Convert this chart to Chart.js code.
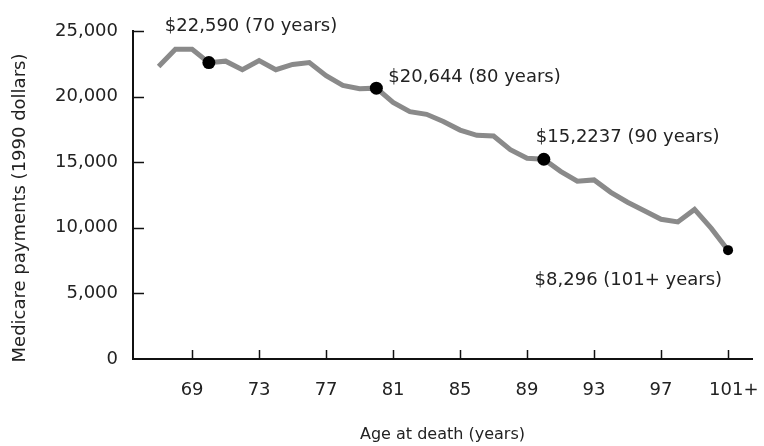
<!DOCTYPE html>
<html lang="en">
<head>
    <meta charset="UTF-8">
    <title>Medicare payments by age at death</title>
    <script src="https://cdn.jsdelivr.net/npm/chart.js"></script>
    <style>
        html, body { margin: 0; padding: 0; background: #fff; }
        .chart-container { width: 764px; height: 446px; position: relative; }
    </style>
</head>
<body>
    <div class="chart-container">
        <canvas id="medChart"></canvas>
    </div>

    <script>
        // values (1990 dollars)
        const ages = [67, 68, 69, 70, 71, 72, 73, 74, 75, 76, 77, 78, 79, 80, 81, 82, 83, 84,
                      85, 86, 87, 88, 89, 90, 91, 92, 93, 94, 95, 96, 97, 98, 99, 100, 101];
        const payments = [22300, 23600, 23600, 22590, 22700, 22050, 22750, 22050, 22450, 22600,
                          21600, 20850, 20600, 20644, 19550, 18850, 18650, 18100, 17450, 17050,
                          17000, 15950, 15300, 15224, 14300, 13550, 13650, 12700, 11950, 11300,
                          10650, 10450, 11400, 9950, 8296];
        const markedAges = [70, 80, 90, 101];
        const markedLabels = ['$22,590 (70 years)', '$20,644 (80 years)', '$15,2237 (90 years)', '$8,296 (101+ years)'];
        const xTicks = [69, 73, 77, 81, 85, 89, 93, 97, 101];
        const yTicks = [0, 5000, 10000, 15000, 20000, 25000];

        const fontFamily = '"DejaVu Sans", sans-serif';
        const textColor = '#222';
        const yTitle = 'Medicare payments (1990 dollars)';
        const points = ages.map((a, i) => ({ x: a, y: payments[i] }));
        const radii = ages.map(a => a === 101 ? 5 : (markedAges.includes(a) ? 6.5 : 0));

        // label placement next to each marked point
        const labelOffsets = {
            70: { dx: -44, dy: -36, align: 'left' },
            80: { dx: 12, dy: -11, align: 'left' },
            90: { dx: -8, dy: -22, align: 'left' },
            101: { dx: -6, dy: 30, align: 'right' }
        };

        const extras = {
            id: 'extras',
            afterDraw(chart) {
                const ctx = chart.ctx;
                const xs = chart.scales.x, ys = chart.scales.y;
                ctx.save();
                // ticks point into the plot on both axes
                ctx.strokeStyle = '#111';
                ctx.lineWidth = 1.5;
                xTicks.forEach(t => {
                    const px = Math.round(xs.getPixelForValue(t)) + 0.5;
                    ctx.beginPath();
                    ctx.moveTo(px, ys.bottom);
                    ctx.lineTo(px, ys.bottom - 9);
                    ctx.stroke();
                });
                yTicks.forEach(t => {
                    if (t === 0) return;
                    const py = Math.round(ys.getPixelForValue(t)) + 0.5;
                    ctx.beginPath();
                    ctx.moveTo(xs.left, py);
                    ctx.lineTo(xs.left + 11, py);
                    ctx.stroke();
                });
                // y axis title, sitting a little lower than the axis middle
                ctx.fillStyle = textColor;
                ctx.font = '18px ' + fontFamily;
                ctx.translate(20, 208);
                ctx.rotate(-Math.PI / 2);
                ctx.textAlign = 'center';
                ctx.textBaseline = 'middle';
                ctx.fillText(yTitle, 0, 0);
                ctx.setTransform(1, 0, 0, 1, 0, 0);
                // point labels
                markedAges.forEach((a, i) => {
                    const idx = ages.indexOf(a);
                    const px = xs.getPixelForValue(a);
                    const py = ys.getPixelForValue(payments[idx]);
                    const o = labelOffsets[a];
                    ctx.textAlign = o.align;
                    ctx.fillText(markedLabels[i], px + o.dx, py + o.dy);
                });
                ctx.restore();
            }
        };

        const ctx = document.getElementById('medChart').getContext('2d');
        new Chart(ctx, {
            type: 'line',
            data: {
                datasets: [{
                    data: points,
                    borderColor: '#8a8a8a',
                    borderWidth: 5,
                    pointRadius: radii,
                    pointBackgroundColor: '#000',
                    pointBorderWidth: 0,
                    tension: 0,
                    fill: false
                }]
            },
            plugins: [extras],
            options: {
                responsive: true,
                maintainAspectRatio: false,
                animation: false,
                layout: { padding: { left: 6, right: 12, top: 31, bottom: 2 } },
                plugins: {
                    legend: { display: false },
                    tooltip: { enabled: false }
                },
                scales: {
                    x: {
                        type: 'linear',
                        min: 65.47,
                        max: 102.43,
                        afterBuildTicks: s => { s.ticks = xTicks.map(v => ({ value: v })); },
                        afterFit: s => { s.height = 85; s.paddingLeft = 0; s.paddingRight = 0; },
                        ticks: {
                            color: textColor,
                            font: { family: fontFamily, size: 18 },
                            padding: 21,
                            callback: v => v === 101 ? '  101+' : String(v)
                        },
                        grid: { display: true, drawOnChartArea: false, drawTicks: false },
                        border: { color: '#111', width: 2 },
                        title: {
                            display: true,
                            text: 'Age at death (years)',
                            color: textColor,
                            font: { family: fontFamily, size: 16 },
                            padding: { top: 4, bottom: 0 }
                        }
                    },
                    y: {
                        min: 0,
                        max: 25000,
                        afterBuildTicks: s => { s.ticks = yTicks.map(v => ({ value: v })); },
                        afterFit: s => { s.width = 127; },
                        ticks: {
                            color: textColor,
                            font: { family: fontFamily, size: 18 },
                            padding: 15,
                            callback: v => v.toLocaleString('en-US')
                        },
                        grid: { drawOnChartArea: false, drawTicks: false },
                        border: { color: '#111', width: 2 }
                    }
                }
            }
        });
    </script>
</body>
</html>
